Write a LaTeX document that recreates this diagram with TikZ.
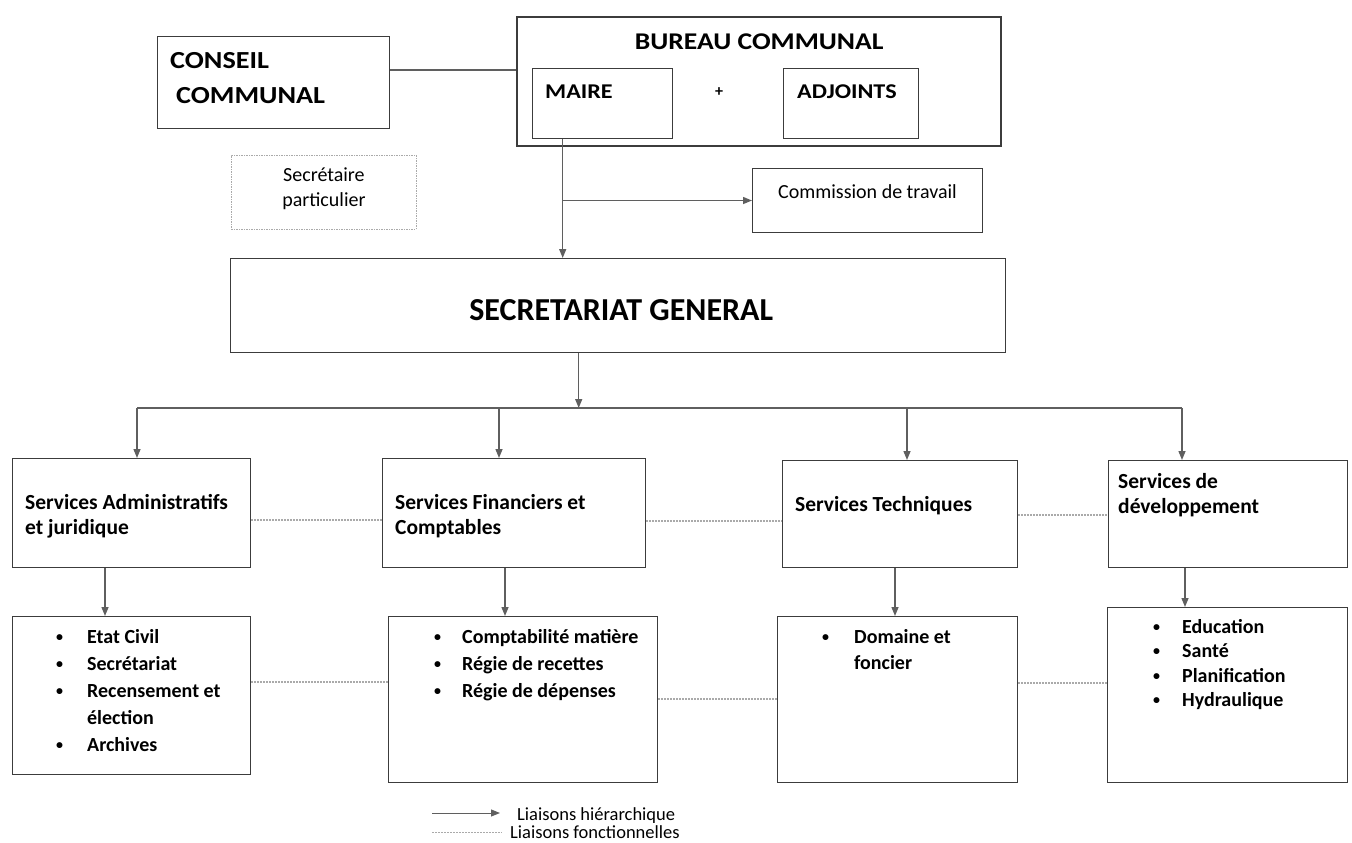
\documentclass[tikz,border=0pt]{standalone}
\usepackage{fontspec}
\setmainfont{Carlito}
\newfontfamily\capsfont[FakeStretch=1.15]{Carlito}
\usetikzlibrary{arrows.meta, positioning, calc}
\definecolor{boxgray}{RGB}{60, 60, 60}
\definecolor{arrowgray}{RGB}{95, 95, 95}
\definecolor{dotgray}{RGB}{170, 170, 170}

\tikzset{
  orgbox/.style={draw=boxgray, line width=1.4pt, anchor=north west, inner sep=0pt},
  hier/.style={draw=arrowgray, line width=1.4pt, -{Triangle[length=9pt, width=7pt]}},
  fonc/.style={draw=dotgray, line width=1.4pt, dash pattern=on 2pt off 1pt},
  headtext/.style={inner sep=0pt, align=left, font=\capsfont\fontsize{24.5}{35}\selectfont\bfseries},
  boxtext/.style={anchor=west, inner sep=0pt, align=left, font=\fontsize{21.5}{25}\selectfont\bfseries},
  plaintext/.style={inner sep=0pt, align=center, font=\fontsize{20}{25}\selectfont},
  listtext/.style={anchor=north west, inner sep=0pt, font=\fontsize{20}{27}\selectfont\bfseries},
  legtext/.style={anchor=base west, inner sep=0pt, font=\fontsize{18.5}{22}\selectfont},
}

\newcommand{\puce}{\raisebox{2pt}{\fontsize{14}{14}\selectfont\textbullet}}
\newenvironment{puces}[1]{\begin{tabular}{@{}l@{\hspace{#1}}l@{}}}{\end{tabular}}

\begin{document}
\begin{tikzpicture}[x=1pt, y=-1pt]
  \useasboundingbox (0,0) rectangle (1352,843);

  % conseil et bureau
  \node[orgbox, minimum width=232pt, minimum height=92pt] (conseil) at (157,36) {};
  \node[headtext, anchor=west] at ([xshift=13pt, yshift=5pt]conseil.west) {CONSEIL\\\hspace*{6pt}COMMUNAL};

  \node[orgbox, line width=2.4pt, minimum width=484pt, minimum height=129pt] (bureau) at (516,16) {};
  \node[headtext, font=\capsfont\fontsize{24}{30}\selectfont\bfseries] at ([yshift=-26pt]bureau.north) {BUREAU COMMUNAL};
  \node[orgbox, minimum width=140pt, minimum height=70pt] (maire) at (532,68) {};
  \node[headtext, anchor=west, font=\capsfont\fontsize{21}{25}\selectfont\bfseries] at ([xshift=13pt, yshift=-24pt]maire.north west) {MAIRE};
  \node[orgbox, minimum width=135pt, minimum height=70pt] (adjoints) at (783,68) {};
  \node[headtext, anchor=west, font=\capsfont\fontsize{21}{25}\selectfont\bfseries] at ([xshift=14pt, yshift=-24pt]adjoints.north west) {ADJOINTS};
  \node[plaintext, font=\fontsize{16}{20}\selectfont\bfseries] (plus) at ($(maire.north east)!0.5!(adjoints.north west)+(-9,24)$) {+};

  \coordinate (liaison) at (0,70);
  \draw[draw=arrowgray, line width=2.6pt] (conseil.east |- liaison) -- (bureau.west |- liaison);

  % secretaire et commission
  \node[orgbox, draw=dotgray, line width=0.8pt, dash pattern=on 1.5pt off 1pt, minimum width=185pt, minimum height=74pt] (secpart) at (231,155) {};
  \node[plaintext] at ([yshift=4pt]secpart.center) {Secrétaire\\particulier};
  \node[orgbox, line width=1pt, minimum width=230pt, minimum height=64pt] (commission) at (752,168) {};
  \node[plaintext] at ([yshift=9pt]commission.center) {Commission de travail};

  % secretariat general
  \node[orgbox, minimum width=775pt, minimum height=94pt] (sg) at (230,258) {};
  \node[plaintext, font=\fontsize{32}{36}\selectfont\bfseries] at ([xshift=3pt, yshift=-4pt]sg.center) {SECRETARIAT GENERAL};

  \coordinate (mdrop) at ([xshift=-40pt]maire.south);
  \draw[hier] (mdrop) -- (mdrop |- sg.north);
  \draw[hier] (mdrop |- commission.west) -- (commission.west);

  % services
  \node[orgbox, minimum width=238pt, minimum height=109pt] (sa) at (12,458) {};
  \node[orgbox, minimum width=263pt, minimum height=109pt] (sf) at (382,458) {};
  \node[orgbox, minimum width=235pt, minimum height=107pt] (st) at (782,460) {};
  \node[orgbox, minimum width=239pt, minimum height=107pt] (sd) at (1108,460) {};
  \node[boxtext] at ([xshift=13pt, yshift=-3pt]sa.west) {Services Administratifs\\et juridique};
  \node[boxtext] at ([xshift=13pt, yshift=-3pt]sf.west) {Services Financiers et\\Comptables};
  \node[boxtext] at ([xshift=13pt, yshift=9pt]st.west) {Services Techniques};
  \node[boxtext] at ([xshift=10pt, yshift=19pt]sd.west) {Services de\\développement};

  \coordinate (sgdrop) at ([xshift=-39.5pt]sg.south);
  \coordinate (busa) at (137,408);
  \coordinate (busb) at (499,408);
  \coordinate (busc) at (907,408);
  \coordinate (busd) at (1182,408);
  \draw[hier] (sgdrop) -- (sgdrop |- busa);
  \draw[draw=arrowgray, line width=1.4pt] (busa) -- (busd);
  \draw[hier] (busa) -- (busa |- sa.north);
  \draw[hier] (busb) -- (busb |- sf.north);
  \draw[hier] (busc) -- (busc |- st.north);
  \draw[hier] (busd) -- (busd |- sd.north);

  \coordinate (rowa) at (0,520);
  \coordinate (rowb) at (0,521);
  \coordinate (rowc) at (0,515);
  \draw[fonc] (sa.east |- rowa) -- (sf.west |- rowa);
  \draw[fonc] (sf.east |- rowb) -- (st.west |- rowb);
  \draw[fonc] (st.east |- rowc) -- (sd.west |- rowc);

  % listes
  \node[orgbox, minimum width=238pt, minimum height=158pt] (la) at (12,616) {};
  \node[orgbox, minimum width=269pt, minimum height=166pt] (lb) at (388,616) {};
  \node[orgbox, minimum width=240pt, minimum height=166pt] (lc) at (777,616) {};
  \node[orgbox, minimum width=240pt, minimum height=175pt] (ld) at (1107,607) {};

  \node[listtext] at ([xshift=44pt, yshift=-8pt]la.north west) {\begin{puces}{24pt}
    \puce & Etat Civil\\
    \puce & Secrétariat\\
    \puce & Recensement et\\
    & élection\\
    \puce & Archives
  \end{puces}};
  \node[listtext] at ([xshift=46pt, yshift=-8pt]lb.north west) {\begin{puces}{21pt}
    \puce & Comptabilité matière\\
    \puce & Régie de recettes\\
    \puce & Régie de dépenses
  \end{puces}};
  \node[listtext, font=\fontsize{20}{26}\selectfont\bfseries] at ([xshift=45pt, yshift=-9pt]lc.north west) {\begin{puces}{25pt}
    \puce & Domaine et\\
    & foncier
  \end{puces}};
  \node[listtext, font=\fontsize{20}{24.5}\selectfont\bfseries] at ([xshift=46pt, yshift=-9pt]ld.north west) {\begin{puces}{22pt}
    \puce & Education\\
    \puce & Santé\\
    \puce & Planification\\
    \puce & Hydraulique
  \end{puces}};

  \coordinate (adrop) at ([xshift=93pt]sa.south west);
  \coordinate (bdrop) at ([xshift=123pt]sf.south west);
  \coordinate (cdrop) at ([xshift=113pt]st.south west);
  \coordinate (ddrop) at ([xshift=77pt]sd.south west);
  \draw[hier] (adrop) -- (adrop |- la.north);
  \draw[hier] (bdrop) -- (bdrop |- lb.north);
  \draw[hier] (cdrop) -- (cdrop |- lc.north);
  \draw[hier] (ddrop) -- (ddrop |- ld.north);

  \coordinate (rowd) at (0,682);
  \coordinate (rowe) at (0,699);
  \coordinate (rowf) at (0,683);
  \draw[fonc] (la.east |- rowd) -- (lb.west |- rowd);
  \draw[fonc] (lb.east |- rowe) -- (lc.west |- rowe);
  \draw[fonc] (lc.east |- rowf) -- (ld.west |- rowf);

  % legende
  \coordinate (lgh) at (432,813);
  \coordinate (lgf) at (432,832);
  \node[legtext] (lh) at (517,820) {Liaisons hiérarchique};
  \node[legtext] (lf) at (510,838.5) {Liaisons fonctionnelles};
  \draw[hier, line width=1pt] (lgh) -- ([xshift=-17pt]lh.west |- lgh);
  \draw[fonc, line width=1pt] (lgf) -- ([xshift=-8pt]lf.west |- lgf);
\end{tikzpicture}
\end{document}
